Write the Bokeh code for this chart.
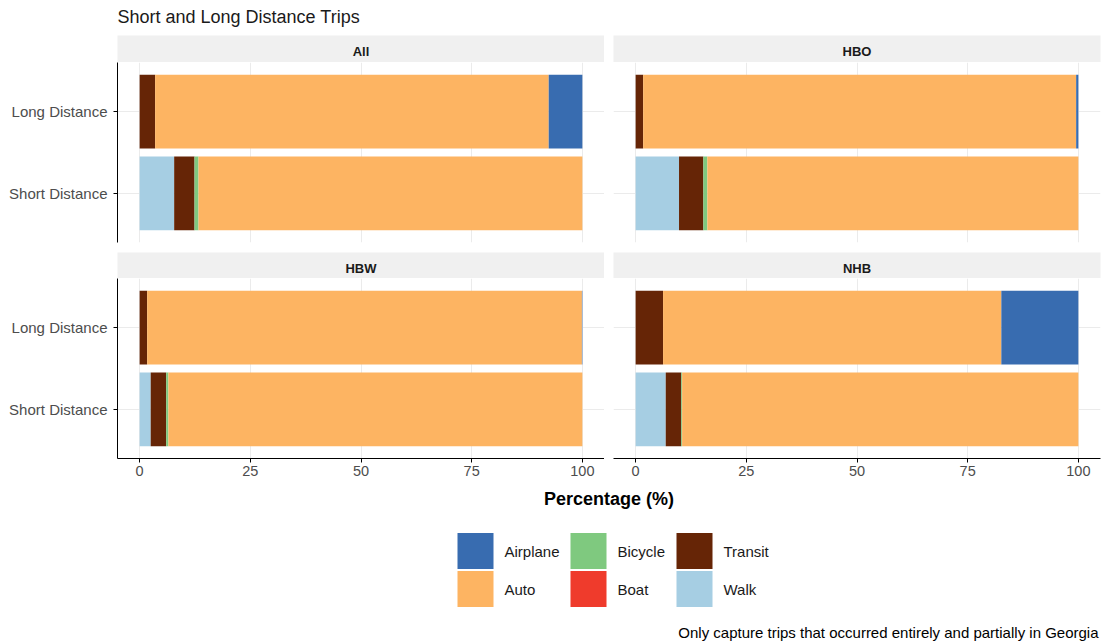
from bokeh.plotting import figure
from bokeh.layouts import column, row
from bokeh.models import ColumnDataSource, FactorRange, Range1d, FixedTicker, Label
from bokeh.core.properties import value
from bokeh.embed import file_html
from bokeh.resources import INLINE

FONT = "Liberation Sans"

# ---- data -------------------------------------------------------------
facets = ["All", "HBO", "HBW", "NHB"]
distances = ["Short Distance", "Long Distance"]          # bottom to top
modes = ["Airplane", "Auto", "Bicycle", "Boat", "Transit", "Walk"]
mode_colors = ["#386CB0", "#FDB462", "#7FC97F", "#EF3B2C", "#662506", "#A6CEE3"]
stack_order = ["Walk", "Transit", "Boat", "Bicycle", "Auto", "Airplane"]
x_ticks = [0, 25, 50, 75, 100]

# share of trips (%), one value per facet: All, HBO, HBW, NHB
walk_short = [7.8, 9.8, 2.5, 6.8]
walk_long = [0.0, 0.0, 0.0, 0.0]
transit_short = [4.6, 5.5, 3.5, 3.5]
transit_long = [3.5, 1.7, 1.7, 6.2]
boat_short = [0.0, 0.0, 0.0, 0.0]
boat_long = [0.0, 0.0, 0.0, 0.0]
bicycle_short = [0.9, 0.9, 0.5, 0.2]
bicycle_long = [0.0, 0.0, 0.0, 0.0]
auto_short = [86.7, 83.8, 93.5, 89.5]
auto_long = [88.9, 97.8, 98.2, 76.4]
airplane_short = [0.0, 0.0, 0.0, 0.0]
airplane_long = [7.6, 0.5, 0.1, 17.4]

title_text = "Short and Long Distance Trips"
x_title = "Percentage (%)"
caption = "Only capture trips that occurred entirely and partially in Georgia"

short_vals = {"Walk": walk_short, "Transit": transit_short, "Boat": boat_short,
              "Bicycle": bicycle_short, "Auto": auto_short, "Airplane": airplane_short}
long_vals = {"Walk": walk_long, "Transit": transit_long, "Boat": boat_long,
             "Bicycle": bicycle_long, "Auto": auto_long, "Airplane": airplane_long}
color_of = dict(zip(modes, mode_colors))

# ---- geometry ---------------------------------------------------------
W_TOTAL = 1103
LEFT_GUTTER = 117       # room for the y tick labels
PANEL_GAP = 9
RIGHT_PAD = 3
FRAME_W = (W_TOTAL - LEFT_GUTTER - PANEL_GAP - RIGHT_PAD) // 2
FRAME_H = 180
HEADER_H = 35
STRIP_H = [27, 26]
GAP_BELOW = [10, 30]
FOOTER_H = 644 - HEADER_H - sum(STRIP_H) - 2 * FRAME_H - sum(GAP_BELOW)

GRID = "#EBEBEB"
STRIP_FILL = "#F0F0F0"
TEXT_DARK = "#1A1A1A"
TICK_TEXT = "#4D4D4D"


def borders(col):
    if col == 0:
        return dict(min_border_left=LEFT_GUTTER, min_border_right=0,
                    width=LEFT_GUTTER + FRAME_W)
    return dict(min_border_left=PANEL_GAP, min_border_right=RIGHT_PAD,
                width=PANEL_GAP + FRAME_W + RIGHT_PAD)


def blank(p):
    p.axis.visible = False
    p.grid.visible = False
    p.outline_line_color = None


def strip(name, col, r):
    h = STRIP_H[r]
    p = figure(title=None, height=h, x_range=Range1d(0, 1), y_range=Range1d(h, 0),
               min_border_top=0, min_border_bottom=0,
               output_backend="svg", toolbar_location=None,
               background_fill_color=STRIP_FILL, border_fill_color="white",
               **borders(col))
    blank(p)
    p.add_layout(Label(x=0.5, y=16, text=name, text_align="center",
                       text_baseline="middle", text_font=FONT,
                       text_font_size="13px", text_font_style="bold",
                       text_color=TEXT_DARK))
    return p


def panel(i, col, r):
    data = {"dist": distances}
    for m in stack_order:
        data[m] = [short_vals[m][i], long_vals[m][i]]
    p = figure(title=None, height=FRAME_H + GAP_BELOW[r],
               x_range=Range1d(-5, 105),
               y_range=FactorRange(factors=distances, range_padding=0.1,
                                   range_padding_units="absolute"),
               min_border_top=0, min_border_bottom=GAP_BELOW[r],
               output_backend="svg", toolbar_location=None,
               **borders(col))
    p.hbar_stack(stack_order, y="dist", height=0.9,
                 fill_color=[color_of[m] for m in stack_order],
                 line_color=None, source=ColumnDataSource(data))
    p.outline_line_color = None
    p.xaxis.ticker = FixedTicker(ticks=x_ticks)
    p.xgrid.ticker = FixedTicker(ticks=x_ticks)
    p.grid.grid_line_color = GRID
    p.grid.grid_line_width = 1
    for ax in p.axis:
        ax.axis_line_color = "black"
        ax.axis_line_width = 1
        ax.major_tick_line_color = "black"
        ax.major_tick_out = 4
        ax.major_tick_in = 0
        ax.minor_tick_line_color = None
        ax.major_label_text_font = FONT
        ax.major_label_text_color = TICK_TEXT
    p.xaxis.major_label_text_font_size = "14.5px"
    p.xaxis.major_label_standoff = 3
    p.yaxis.major_label_text_font_size = "15px"
    p.yaxis.major_label_standoff = 6
    p.xaxis.visible = (r == 1)
    p.yaxis.visible = (col == 0)
    return p


# ---- header -----------------------------------------------------------
header = figure(title=None, width=W_TOTAL, height=HEADER_H, x_range=Range1d(0, W_TOTAL),
                y_range=Range1d(HEADER_H, 0), min_border=0,
                output_backend="svg", toolbar_location=None)
blank(header)
header.add_layout(Label(x=LEFT_GUTTER, y=16.5, text=title_text, text_align="left",
                        text_baseline="middle", text_font=FONT,
                        text_font_size="18px", text_color=TEXT_DARK))

# ---- facets -----------------------------------------------------------
rows = []
for r in range(2):
    strips, panels = [], []
    for col in range(2):
        i = 2 * r + col
        strips.append(strip(facets[i], col, r))
        panels.append(panel(i, col, r))
    rows.append(row(*strips, spacing=0))
    rows.append(row(*panels, spacing=0))

# ---- footer: axis title, legend, caption -------------------------------
footer = figure(title=None, width=W_TOTAL, height=FOOTER_H, x_range=Range1d(0, W_TOTAL),
                y_range=Range1d(FOOTER_H, 0), min_border=0,
                output_backend="svg", toolbar_location=None)
blank(footer)

centre_x = LEFT_GUTTER + (W_TOTAL - RIGHT_PAD - LEFT_GUTTER) / 2
footer.add_layout(Label(x=centre_x, y=10, text=x_title, text_align="center",
                        text_baseline="middle", text_font=FONT,
                        text_font_size="18px", text_font_style="bold",
                        text_color="black"))

KEY = 36
KEY_STEP = 38
LEG_TOP = 44.5
col_left = [457, 570, 676]
key_x, key_y, lab_x, lab_y = [], [], [], []
for k, m in enumerate(modes):
    c, rr = divmod(k, 2)
    key_x.append(col_left[c] + KEY / 2)
    key_y.append(LEG_TOP + rr * KEY_STEP + KEY / 2)
    lab_x.append(col_left[c] + KEY + 11)
    lab_y.append(LEG_TOP + rr * KEY_STEP + KEY / 2 + 0.5)
footer.rect(x=key_x, y=key_y, width=KEY, height=KEY, fill_color=mode_colors,
            line_color=None)
footer.text(x=lab_x, y=lab_y, text=modes, text_align="left",
            text_baseline="middle", text_font=value(FONT),
            text_font_size="15px", text_color=TEXT_DARK)

footer.add_layout(Label(x=W_TOTAL - 5, y=144, text=caption, text_align="right",
                        text_baseline="middle", text_font=FONT,
                        text_font_size="15px", text_color="black"))

layout = column(header, *rows, footer, spacing=0)

open("out.html", "w").write(file_html(layout, INLINE))
